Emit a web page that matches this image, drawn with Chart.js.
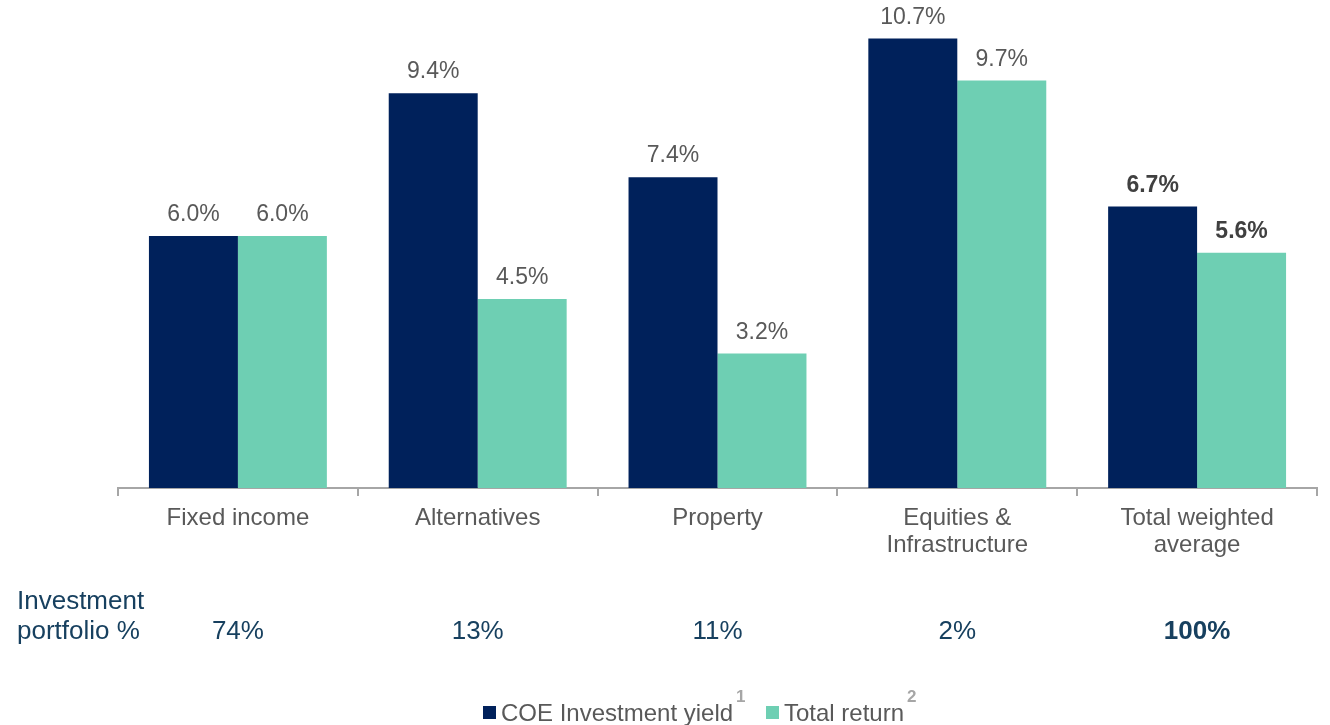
<!DOCTYPE html>
<html>
<head>
<meta charset="utf-8">
<script src="https://cdn.jsdelivr.net/npm/chart.js@4.4.0/dist/chart.umd.min.js"></script>
<style>
html,body{margin:0;padding:0;background:#fff;}
#wrap{position:relative;width:1330px;height:725px;}
</style>
</head>
<body>
<div id="wrap"><canvas id="c" width="1330" height="725"></canvas></div>
<script>
const categories = ['Fixed income', 'Alternatives', 'Property', ['Equities &', 'Infrastructure'], ['Total weighted', 'average']];
const investmentYield = [6.0, 9.4, 7.4, 10.7, 6.7];
const totalReturn = [6.0, 4.5, 3.2, 9.7, 5.6];
const portfolioShare = ['74%', '13%', '11%', '2%', '100%'];
const seriesNames = ['COE Investment yield', 'Total return'];
const seriesNotes = ['1', '2'];
const rowTitle = ['Investment', 'portfolio %'];

const NAVY = '#00215B';
const TEAL = '#6ECFB3';
const FONT = 'Arial, "Liberation Sans", sans-serif';

const extras = {
  id: 'extras',
  afterDatasetsDraw(chart) {
    const ctx = chart.ctx;
    ctx.save();
    // value labels
    chart.data.datasets.forEach((ds, di) => {
      const meta = chart.getDatasetMeta(di);
      meta.data.forEach((bar, i) => {
        const last = i === ds.data.length - 1;
        ctx.font = (last ? 'bold ' : '') + '23px ' + FONT;
        ctx.fillStyle = last ? '#404040' : '#595959';
        ctx.textAlign = 'center';
        ctx.textBaseline = 'alphabetic';
        ctx.fillText(ds.data[i].toFixed(1) + '%', bar.x, bar.y - 15);
      });
    });
    // portfolio row
    const xs = chart.scales.x;
    ctx.fillStyle = '#17405F';
    ctx.font = '26px ' + FONT;
    ctx.textAlign = 'left';
    ctx.fillText(rowTitle[0], 17, 609);
    ctx.fillText(rowTitle[1], 17, 639);
    ctx.textAlign = 'center';
    portfolioShare.forEach((v, i) => {
      const last = i === portfolioShare.length - 1;
      ctx.font = (last ? 'bold ' : '') + '26px ' + FONT;
      ctx.fillText(v, xs.getPixelForValue(i), 639);
    });
    // legend
    const colors = [NAVY, TEAL];
    const starts = [483, 766];
    seriesNames.forEach((name, k) => {
      const x = starts[k];
      ctx.fillStyle = colors[k];
      ctx.fillRect(x, 706, 13, 13);
      ctx.font = '24px ' + FONT;
      ctx.fillStyle = '#595959';
      ctx.textAlign = 'left';
      ctx.fillText(name, x + 18, 721);
      const w = ctx.measureText(name).width;
      ctx.font = 'bold 17px ' + FONT;
      ctx.fillStyle = '#A6A6A6';
      ctx.fillText(seriesNotes[k], x + 18 + w + 3, 702);
    });
    ctx.restore();
  }
};

new Chart(document.getElementById('c'), {
  type: 'bar',
  data: {
    labels: categories,
    datasets: [
      { label: seriesNames[0], data: investmentYield, backgroundColor: NAVY, categoryPercentage: 0.742, barPercentage: 1.0 },
      { label: seriesNames[1], data: totalReturn, backgroundColor: TEAL, categoryPercentage: 0.742, barPercentage: 1.0 }
    ]
  },
  options: {
    responsive: false,
    animation: false,
    layout: { padding: { left: 118, right: 13, top: 26, bottom: 157 } },
    plugins: { legend: { display: false }, tooltip: { enabled: false } },
    scales: {
      y: { display: false, min: 0, max: 11 },
      x: {
        border: { color: '#A6A6A6', width: 2 },
        grid: { offset: true, drawOnChartArea: false, drawTicks: true, tickLength: 8, color: '#A6A6A6', lineWidth: 2 },
        ticks: { color: '#595959', font: { family: FONT, size: 24, lineHeight: 1.125 }, padding: 9, maxRotation: 0, autoSkip: false }
      }
    }
  },
  plugins: [extras]
});
</script>
</body>
</html>
